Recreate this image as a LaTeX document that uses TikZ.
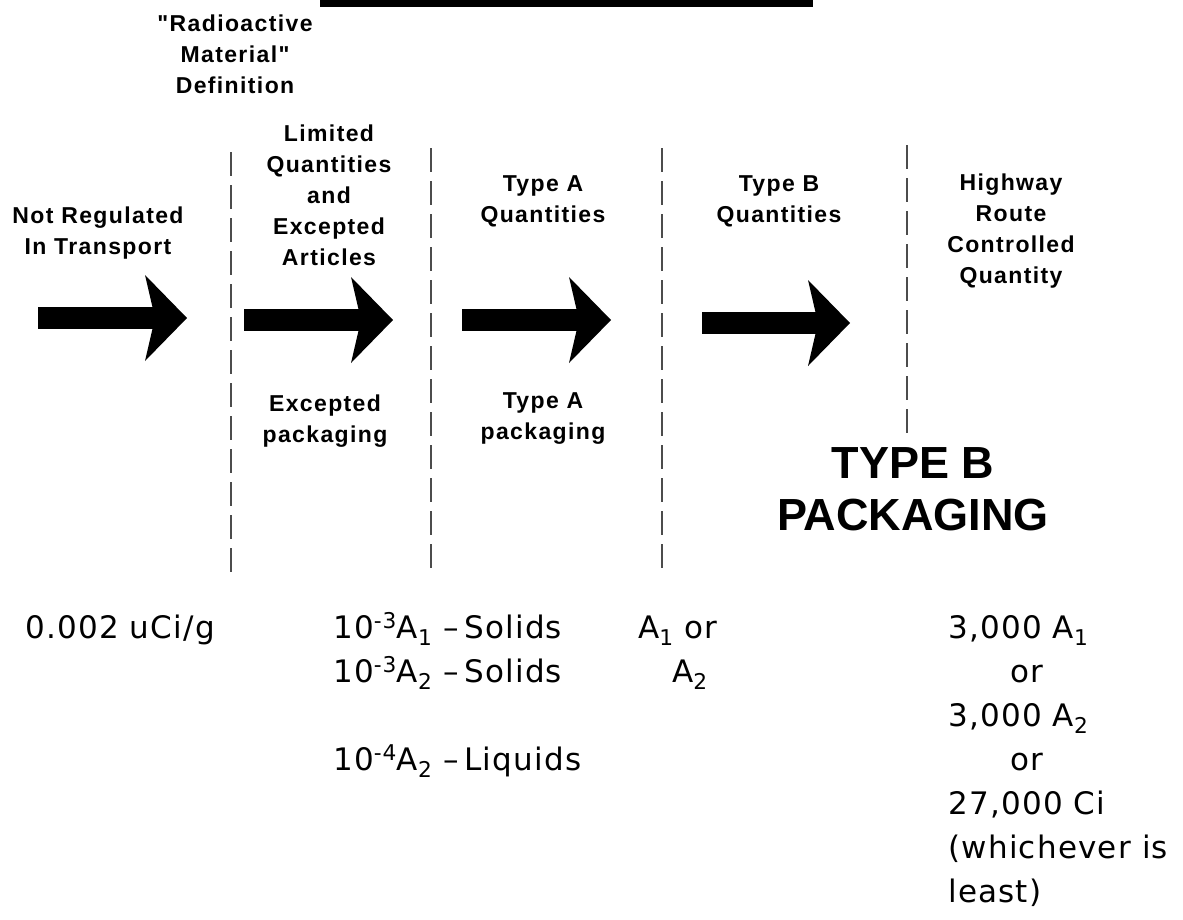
\documentclass[tikz,border=0pt]{standalone}
\usepackage{fontspec}
\newfontfamily\lblfont[LetterSpace=6]{Liberation Sans}
\newfontfamily\bigfont{Liberation Sans}
\newfontfamily\valfont[LetterSpace=4]{DejaVu Sans}
\usetikzlibrary{arrows.meta, positioning}

\begin{document}
\begin{tikzpicture}[
    x=1pt, y=-1pt,
    heading/.style={align=center, inner sep=0pt, anchor=north, font=\lblfont\bfseries\fontsize{23}{31}\selectfont},
    bigtext/.style={align=center, inner sep=0pt, anchor=north, font=\bigfont\bfseries\fontsize{45}{52}\selectfont},
    qty/.style={align=left, inner sep=0pt, anchor=base west, font=\valfont\fontsize{31}{44}\selectfont},
    divider/.style={draw=black!70, line width=1.5pt, dash pattern=on 24pt off 9pt},
    fatarrow/.style={line width=22pt, -{Stealth[length=42pt, width=86pt, inset=10pt, line width=0pt]}}
]
    \useasboundingbox (0,0) rectangle (1183,919);

    % bar at the top
    \fill (320,0) rectangle (813,7);

    % column headings
    \node[heading] (radmat) at (235,15) {"Radioactive\\Material"\\Definition};
    \node[heading] (notreg) at (98,207) {Not Regulated\\In Transport};
    \node[heading] (limited) at (329,125) {Limited\\Quantities\\and\\Excepted\\Articles};
    \node[heading] (typeaq) at (543,175) {Type A\\Quantities};
    \node[heading] (typebq) at (779,175) {Type B\\Quantities};
    \node[heading] (hrcq) at (1011,174) {Highway\\Route\\Controlled\\Quantity};

    % packaging
    \node[heading] (excpkg) at (325,395) {Excepted\\packaging};
    \node[heading] (typeapkg) at (543,392) {Type A\\packaging};
    \node[bigtext] (typebpkg) at (913,447) {TYPE B\\PACKAGING};

    % dashed dividers
    \draw[divider] (231,152) -- (231,574);
    \draw[divider] (431,148) -- (431,570);
    \draw[divider] (662,148) -- (662,570);
    \draw[divider] (907,145) -- (907,433);

    % arrows
    \foreach \n/\xs/\xe/\y in {1/38/187/318, 2/244/393/320, 3/462/611/320, 4/702/850/323} {
        \coordinate (s\n) at (\xs,\y);
        \coordinate (e\n) at (\xe,\y);
        \draw[fatarrow] (s\n) -- (e\n);
    }

    % limits (base = last line)
    \node[qty] (notregval) at (25,638) {0.002 uCi/g};
    \node[qty] (limitedval) at (333,770) {10\textsuperscript{-3}A\textsubscript{1} –\thinspace Solids\\10\textsuperscript{-3}A\textsubscript{2} –\thinspace Solids\\[44pt]10\textsuperscript{-4}A\textsubscript{2} –\thinspace Liquids};
    \node[qty] (typeaval) at (638,682) {A\textsubscript{1} or\\\hspace*{34pt}A\textsubscript{2}};
    \node[qty] (hrcqval) at (948,902) {3,000 A\textsubscript{1}\\\hspace*{62pt}or\\3,000 A\textsubscript{2}\\\hspace*{62pt}or\\27,000 Ci\\(whichever is\\least)};
\end{tikzpicture}
\end{document}
